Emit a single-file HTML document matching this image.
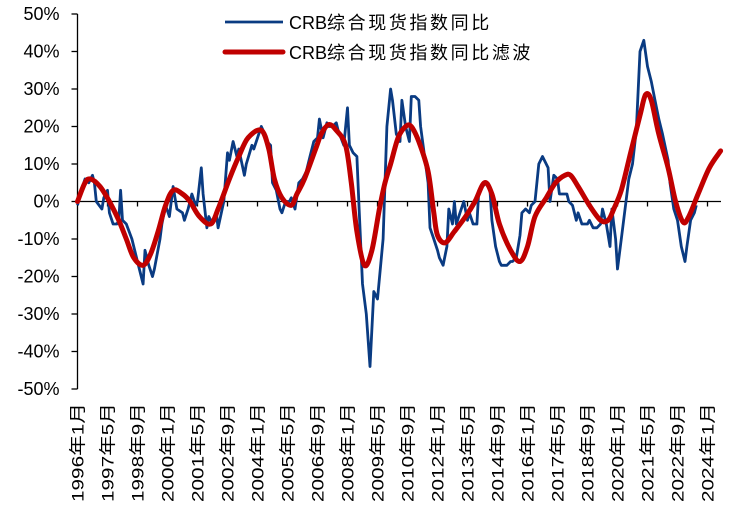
<!DOCTYPE html>
<html><head><meta charset="utf-8">
<style>
html,body{margin:0;padding:0;background:#fff;}
svg{display:block;font-family:"Liberation Sans","Noto Sans CJK SC",sans-serif;}
</style></head>
<body>
<svg id="chart" width="729" height="510" viewBox="0 0 729 510" xmlns="http://www.w3.org/2000/svg">
<g id="axes"></g>
<g id="series"></g>
<g>
  <g>
    <line x1="225" y1="22" x2="283" y2="22" stroke="#0a3b82" stroke-width="2.8"/>
    <text x="289" y="29" font-size="18" fill="#000">CRB<tspan letter-spacing="2.6">综合现货指数同比</tspan></text>
  </g>
  <g>
    <line x1="225" y1="52" x2="283" y2="52" stroke="#c00000" stroke-width="5" stroke-linecap="round"/>
    <text x="289" y="59" font-size="18" fill="#000">CRB<tspan letter-spacing="2.6">综合现货指数同比滤波</tspan></text>
  </g>
</g>
</svg>
<script>
const yTicks = [50,40,30,20,10,0,-10,-20,-30,-40,-50];
const xLabels = ["1996年1月","1997年5月","1998年9月","2000年1月","2001年5月","2002年9月","2004年1月","2005年5月","2006年9月","2008年1月","2009年5月","2010年9月","2012年1月","2013年5月","2014年9月","2016年1月","2017年5月","2018年9月","2020年1月","2021年5月","2022年9月","2024年1月"];
const blueMonths = [0,2,4,6,8,9,10,13,14,16,17,19,21,22,23,24,26,29,31,35,36,38,40,41,44,45,47,49,51,53,56,57,59,61,63,64,66,67,69,70,72,74,75,78,80,81,83,85,86,89,90,93,94,98,99,101,103,104,106,108,109,111,113,114,116,118,120,122,124,126,128,129,131,133,134,136,138,139,142,144,145,147,149,150,152,154,156,158,160,163,165,167,168,170,172,173,175,177,178,180,182,183,187,188,190,192,193,195,197,198,200,201,202,204,206,208,209,211,213,214,216,218,220,221,223,225,226,229,231,232,234,236,237,239,241,242,244,246,248,251,252,254,256,257,259,261,262,264,266,267,269,272,273,275,277,279,280,282,284,285,287,288,290,294,296,298,300,302,304,306,308,310,312,315,316,318,320,322,324,325,327,329,330];
const blueValues = [-1,3,6,5,7,5,0,-2,1,3,-3,-6,-6,-5,3,-5,-6,-10,-14,-22,-13,-17,-20,-18,-10,-6,-1,-4,4,-2,-3,-5,-2,2,-1,0,9,2,-7,-4,-6,-3,-7,0,13,11,16,12,14,7,10,15,14,20,19,16,15,5,3,-2,-3,0,0,1,-2,5,6,8,12,16,17,22,17,21,20,20,21,19,15,25,15,13,12,0,-22,-30,-44,-24,-26,-10,20,30,27,18,16,27,20,16,28,28,27,20,5,-7,-10,-13,-15,-17,-12,-2,-6,0,-6,-3,0,-5,-3,-6,-6,3,4,5,3,-5,-12,-16,-17,-17,-16,-16,-15,-9,-3,-2,-3,-1,0,10,12,9,0,7,6,2,2,2,0,-1,-5,-3,-6,-6,-5,-7,-7,-6,-2,-6,-12,-2,-10,-18,-10,6,10,19,40,43,36,32,27,22,18,11,5,-2,-5,-12,-16,-12,-5,-3,-1];
const redMonths = [0,4,7,12,17,22,26,30,35,39,43,47,51,56,60,65,71,75,81,86,91,98,102,105,109,114,117,121,127,130,134,138,143,146,149,153,157,161,164,167,171,175,178,182,187,190,192,196,201,207,212,217,221,225,231,236,240,244,250,255,260,263,267,273,279,283,286,290,295,300,303,306,310,315,319,323,326,331,337,343];
const redValues = [0,5,6,4,0,-5,-10,-15,-17,-14,-8,-1,3,2,0,-4,-6,-2,6,12,17,19,14,6,1,-1,2,6,14,18,20.5,19,15,5,-8,-17,-13,-2,5,10,17,20,20,16,8,-3,-9,-11,-8,-4,0,5,2,-6,-13,-16,-12,-4,1,5,7,7,4,-1,-5,-5,-2,3,13,23,28.5,27,18,9,0,-5.5,-4,2,9,13.5];

const NS = "http://www.w3.org/2000/svg";
const X0 = 77.5, PXM = 1.875;
const xS = m => X0 + m * PXM;
const yS = v => 201.5 - v * 3.75;
const axes = document.getElementById('axes');
const series = document.getElementById('series');
function mk(tag, attrs, parent){ const e=document.createElementNS(NS,tag); for(const k in attrs) e.setAttribute(k,attrs[k]); parent.appendChild(e); return e; }

const yAxis = mk('line',{x1:X0,y1:yS(50),x2:X0,y2:yS(-50),stroke:'#000','stroke-width':1.3},axes);


yTicks.forEach(t=>{
  const tk = mk('line',{x1:X0-6,y1:yS(t),x2:X0,y2:yS(t),stroke:'#000','stroke-width':1.3},axes);
  
  
  const lb = mk('text',{x:X0-18,y:yS(t)+6,'text-anchor':'end','font-size':18,fill:'#000'},axes);
  lb.textContent = t + '%';
  
  
});
const xAxis = mk('line',{x1:X0,y1:yS(0),x2:721,y2:yS(0),stroke:'#000','stroke-width':1.3},axes);


xLabels.forEach((l,i)=>{
  const x = xS(i*16);
  if(i>0){
    const tk = mk('line',{x1:x,y1:yS(0),x2:x,y2:yS(0)+5,stroke:'#000','stroke-width':1.3},axes);
    
    
  }
  const lb = mk('text',{x:0,y:0,'text-anchor':'end','font-size':17,fill:'#000',textLength:99,lengthAdjust:'spacingAndGlyphs',transform:`translate(${x+6},403) rotate(-90)`},axes);
  lb.textContent = l;
  
  
});

const bp = blueMonths.map((m,i)=>`${xS(m).toFixed(1)},${yS(blueValues[i]).toFixed(1)}`).join(' ');
const blue = mk('polyline',{points:bp,fill:'none',stroke:'#0a3b82','stroke-width':2.8,'stroke-linejoin':'round'},series);



// smooth path (Catmull-Rom) through the filtered-series points
const rpts = redMonths.map((m,i)=>[xS(m), yS(redValues[i])]);
let d = `M${rpts[0][0]},${rpts[0][1]}`;
for(let i=0;i<rpts.length-1;i++){
  const p0=rpts[Math.max(0,i-1)], p1=rpts[i], p2=rpts[i+1], p3=rpts[Math.min(rpts.length-1,i+2)];
  const c1x=p1[0]+(p2[0]-p0[0])/6, c1y=p1[1]+(p2[1]-p0[1])/6;
  const c2x=p2[0]-(p3[0]-p1[0])/6, c2y=p2[1]-(p3[1]-p1[1])/6;
  d += ` C${c1x.toFixed(1)},${c1y.toFixed(1)} ${c2x.toFixed(1)},${c2y.toFixed(1)} ${p2[0].toFixed(1)},${p2[1].toFixed(1)}`;
}
const red = mk('path',{d:d,fill:'none',stroke:'#c00000','stroke-width':5,'stroke-linejoin':'round','stroke-linecap':'round'},series);


</script>
</body></html>
